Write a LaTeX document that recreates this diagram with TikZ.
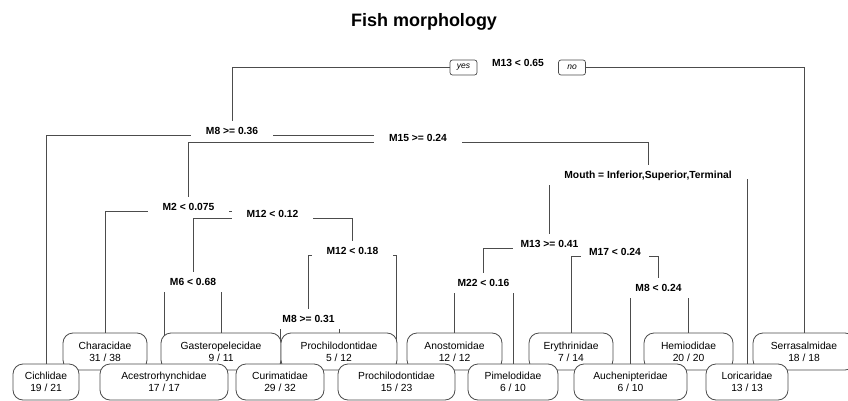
\documentclass[tikz,border=0pt]{standalone}
\usepackage{fontspec}
\setmainfont{Liberation Sans}
\usetikzlibrary{calc}
\pgfdeclarelayer{bg}
\pgfsetlayers{bg,main}
\begin{document}
\begin{tikzpicture}[x=1pt,y=-1pt,
  branch/.style={draw=black!70, line width=0.8pt},
  split/.style={fill=white, inner xsep=15pt, inner ysep=0pt, minimum height=20pt,
    text height=7.4pt, text depth=0pt, font=\fontsize{10.3}{12}\selectfont\bfseries},
  tight/.style={inner xsep=8pt},
  leaf/.style={draw=black!70, line width=0.8pt, fill=white, rounded corners=10pt,
    inner sep=0pt, align=center, font=\fontsize{10.3}{12}\selectfont},
  toprow/.style={leaf, minimum height=37pt},
  botrow/.style={leaf, minimum height=36pt},
  tag/.style={draw=black!70, line width=0.7pt, fill=white, rounded corners=2.5pt,
    minimum width=27pt, minimum height=15pt, inner sep=0pt,
    font=\fontsize{8.5}{9}\selectfont\itshape},
]
\useasboundingbox (0,0) rectangle (848,401);

% title
\node[font=\fontsize{18}{20}\selectfont\bfseries] (title) at (424,22) {Fish morphology};

% split labels
\node[split] (r) at (518,63)   {M13 < 0.65};
\node[split] (a) at (232,131)  {M8 >= 0.36};
\node[split] (b) at (418,138)  {M15 >= 0.24};
\node[split] (c) at (648,175)  {Mouth = Inferior,Superior,Terminal};
\node[split] (d) at (188.5,207) {M2 < 0.075};
\node[split] (e) at (272.5,214) {M12 < 0.12};
\node[split] (f) at (193,282)  {M6 < 0.68};
\node[split] (g) at (352.5,251) {M12 < 0.18};
\node[split] (h) at (308.5,319) {M8 >= 0.31};
\node[split, tight] (i) at (549.5,244) {M13 >= 0.41};
\node[split, tight] (k) at (615,252)  {M17 < 0.24};
\node[split] (j) at (483.5,283) {M22 < 0.16};
\node[split] (l) at (658.5,288) {M8 < 0.24};

% yes / no tags on the root branch
\node[tag] (yes) at (463.5,67.5) {yes};
\node[tag] (no)  at (572,67.5)   {no};

% leaves, upper row
\node[toprow, minimum width=84pt]  (characidae)  at (105,351.5)   {Characidae\\31 / 38};
\node[toprow, minimum width=120pt] (gastero)     at (221,351.5)   {Gasteropelecidae\\9 / 11};
\node[toprow, minimum width=116pt] (prochA)      at (339,351.5)   {Prochilodontidae\\5 / 12};
\node[toprow, minimum width=95pt]  (anostomidae) at (454.5,351.5) {Anostomidae\\12 / 12};
\node[toprow, minimum width=84pt]  (erythrinidae) at (571,351.5)  {Erythrinidae\\7 / 14};
\node[toprow, minimum width=89pt]  (hemiodidae)  at (688.5,351.5) {Hemiodidae\\20 / 20};
\node[toprow, minimum width=102pt] (serrasalmidae) at (804,351.5) {Serrasalmidae\\18 / 18};

% leaves, lower row
\node[botrow, minimum width=66pt]  (cichlidae)   at (46,382)      {Cichlidae\\19 / 21};
\node[botrow, minimum width=128pt] (acestro)     at (164,382)     {Acestrorhynchidae\\17 / 17};
\node[botrow, minimum width=88pt]  (curimatidae) at (280,382)     {Curimatidae\\29 / 32};
\node[botrow, minimum width=117pt] (prochB)      at (396.5,382)   {Prochilodontidae\\15 / 23};
\node[botrow, minimum width=90pt]  (pimelodidae) at (513,382)     {Pimelodidae\\6 / 10};
\node[botrow, minimum width=113pt] (auchen)      at (630.5,382)   {Auchenipteridae\\6 / 10};
\node[botrow, minimum width=82pt]  (loricaridae) at (747,382)     {Loricaridae\\13 / 13};

% branches, drawn beneath the labels
\begin{pgfonlayer}{bg}
  \foreach \p/\c in {r/a, r/serrasalmidae,
                     a/cichlidae, a/b,
                     b/d, b/c,
                     d/characidae, d/e,
                     e/f, e/g,
                     f/acestro, f/gastero,
                     g/h, g/prochB,
                     h/curimatidae, h/prochA,
                     c/i, c/loricaridae,
                     i/j, i/k,
                     j/anostomidae, j/pimelodidae,
                     k/erythrinidae, k/l,
                     l/auchen, l/hemiodidae}
    \draw[branch] ($(\p.center)+(0,4)$) -| (\c.north);
\end{pgfonlayer}
\end{tikzpicture}
\end{document}
